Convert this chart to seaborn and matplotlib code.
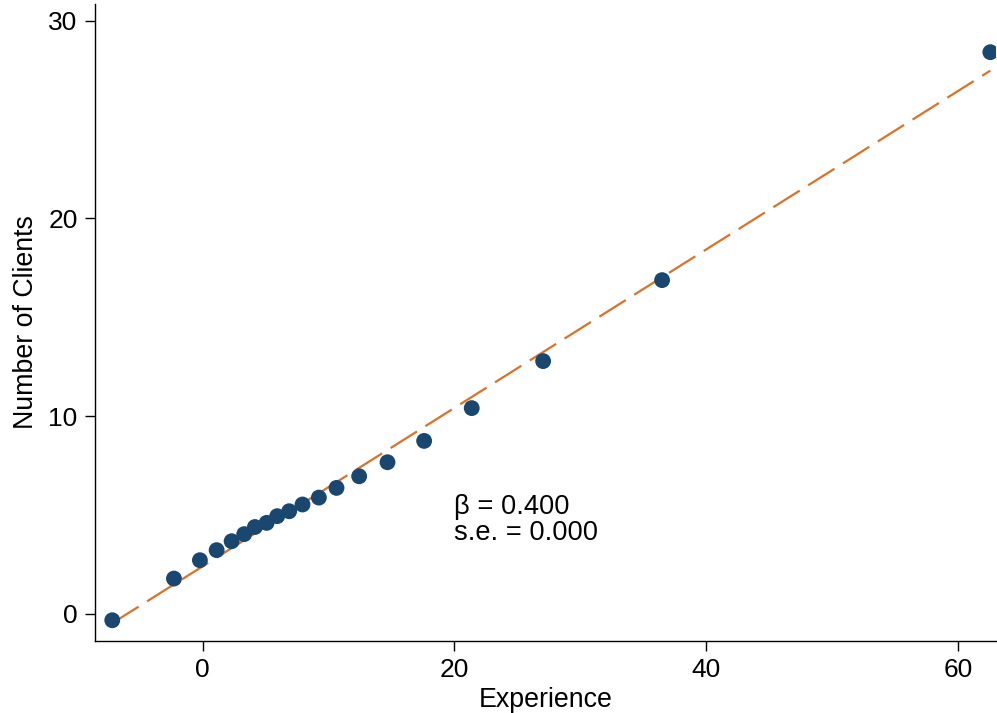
import matplotlib
matplotlib.use("Agg")
import matplotlib.pyplot as plt
import seaborn as sns
import numpy as np
import pandas as pd

experience = [-7.17, -2.27, -0.21, 1.12, 2.31, 3.31, 4.16, 5.09, 5.93, 6.88,
              7.94, 9.24, 10.64, 12.44, 14.69, 17.6, 21.38, 27.05, 36.5, 62.57]
clients = [-0.34, 1.77, 2.70, 3.21, 3.66, 4.02, 4.38, 4.59, 4.93, 5.18,
           5.52, 5.87, 6.36, 6.95, 7.66, 8.74, 10.40, 12.78, 16.88, 28.42]
x_ticks = [0, 20, 40, 60]
y_ticks = [0, 10, 20, 30]
annotation = "β = 0.400\ns.e. = 0.000"

df = pd.DataFrame({"Experience": experience, "Number of Clients": clients})

sns.set_theme(style="white")
plt.rcParams['font.family'] = ['Liberation Sans', 'DejaVu Sans']

fig = plt.figure(figsize=(9.97, 7.13), dpi=100)
ax = fig.add_axes([0.0953, 0.101, 0.9037, 0.8934])

sns.regplot(data=df, x="Experience", y="Number of Clients", ax=ax, ci=None,
            scatter=False,
            line_kws=dict(color="#d9722b", lw=1.6, dashes=(14, 4.5)))
sns.scatterplot(data=df, x="Experience", y="Number of Clients", ax=ax,
                color="#1a476f", s=130, edgecolor="none", zorder=3, clip_on=True)

ax.set_xlim(-8.54, 63.02)
ax.set_ylim(-1.39, 30.86)
ax.set_xticks(x_ticks)
ax.set_yticks(y_ticks)
ax.tick_params(axis="both", labelsize=19, length=7.5, width=1.0, pad=5,
               color="black", labelcolor="black", direction="out")
ax.tick_params(axis="both", which="both", bottom=True, left=True)
sns.despine(ax=ax)
for s in ["left", "bottom"]:
    ax.spines[s].set_color("black")
    ax.spines[s].set_linewidth(1.0)

ax.set_xlabel("Experience", fontsize=19.3, color="black", labelpad=3)
ax.set_ylabel("Number of Clients", fontsize=19.3, color="black", labelpad=7)

ax.text(20.0, 4.75, annotation, fontsize=19.6, ha="left", va="center",
        color="black", linespacing=0.98)

fig.savefig("out.png", dpi=100)
